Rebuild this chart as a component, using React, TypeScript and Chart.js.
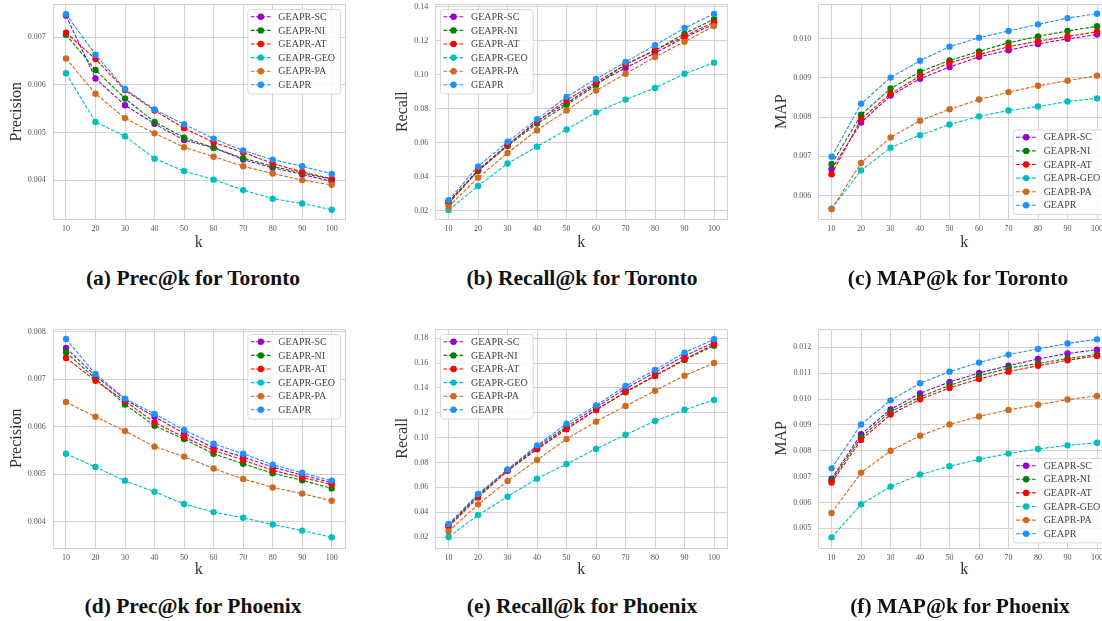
import React, { useEffect, useRef } from 'react';
import { Chart, registerables } from 'chart.js';

Chart.register(...registerables);

// ---------------- data ----------------
const ks = [10, 20, 30, 40, 50, 60, 70, 80, 90, 100];
const seriesNames = ['GEAPR-SC', 'GEAPR-NI', 'GEAPR-AT', 'GEAPR-GEO', 'GEAPR-PA', 'GEAPR'];
const seriesColors = ['#9400D3', '#008000', '#FF0000', '#00BFBF', '#D2691E', '#1E90FF'];

// rows follow seriesNames order
const precToronto = [
  [0.00745, 0.00613, 0.00557, 0.00518, 0.00484, 0.00468, 0.00443, 0.00426, 0.00412, 0.00397],
  [0.00705, 0.00631, 0.00571, 0.00522, 0.00489, 0.00468, 0.00446, 0.00429, 0.00415, 0.00401],
  [0.00709, 0.00654, 0.00589, 0.00546, 0.00509, 0.00479, 0.00458, 0.00435, 0.00417, 0.00403],
  [0.00624, 0.00522, 0.00492, 0.00445, 0.00419, 0.00401, 0.00379, 0.00361, 0.00351, 0.00338],
  [0.00655, 0.00581, 0.0053, 0.00498, 0.00469, 0.00449, 0.00429, 0.00414, 0.004, 0.0039],
  [0.00748, 0.00663, 0.00591, 0.00548, 0.00517, 0.00487, 0.00462, 0.00443, 0.00429, 0.00413],
];
const recallToronto = [
  [0.0254, 0.0438, 0.0586, 0.0729, 0.0834, 0.0948, 0.1041, 0.1129, 0.122, 0.1299],
  [0.0245, 0.0435, 0.0582, 0.0714, 0.0824, 0.0939, 0.1063, 0.1144, 0.1243, 0.1328],
  [0.025, 0.0442, 0.059, 0.0725, 0.0851, 0.0956, 0.1061, 0.1146, 0.1228, 0.1311],
  [0.0206, 0.0347, 0.0479, 0.0578, 0.0679, 0.078, 0.0855, 0.0923, 0.1007, 0.1072],
  [0.0225, 0.0396, 0.0541, 0.0675, 0.0791, 0.0908, 0.1007, 0.1105, 0.1195, 0.1288],
  [0.0264, 0.0462, 0.0607, 0.0739, 0.0871, 0.0976, 0.1076, 0.1175, 0.1276, 0.1359],
];
const mapToronto = [
  [0.00667, 0.00786, 0.00855, 0.00898, 0.00928, 0.00954, 0.00971, 0.00987, 0.01, 0.01011],
  [0.0068, 0.00806, 0.00873, 0.00916, 0.00945, 0.00968, 0.0099, 0.01006, 0.0102, 0.01032],
  [0.00654, 0.00795, 0.0086, 0.00905, 0.00939, 0.0096, 0.0098, 0.00994, 0.01006, 0.01018],
  [0.00566, 0.00664, 0.00722, 0.00754, 0.00781, 0.00802, 0.00817, 0.00827, 0.0084, 0.00848],
  [0.00565, 0.00683, 0.00748, 0.00791, 0.0082, 0.00845, 0.00864, 0.0088, 0.00893, 0.00906],
  [0.00699, 0.00834, 0.00901, 0.00944, 0.0098, 0.01003, 0.0102, 0.01037, 0.01053, 0.01064],
];
const precPhoenix = [
  [0.00766, 0.00707, 0.00658, 0.00621, 0.00586, 0.00556, 0.00536, 0.00515, 0.00498, 0.00482],
  [0.00757, 0.00701, 0.00647, 0.00602, 0.00574, 0.00543, 0.00522, 0.00502, 0.00487, 0.0047],
  [0.00745, 0.00697, 0.00654, 0.00609, 0.00578, 0.0055, 0.0053, 0.00508, 0.00493, 0.00478],
  [0.00543, 0.00515, 0.00486, 0.00463, 0.00437, 0.0042, 0.00408, 0.00394, 0.00381, 0.00367],
  [0.00652, 0.00621, 0.00591, 0.00558, 0.00537, 0.00512, 0.0049, 0.00472, 0.00459, 0.00444],
  [0.00785, 0.00711, 0.00659, 0.00627, 0.00593, 0.00564, 0.00543, 0.0052, 0.00503, 0.00486],
];
const recallPhoenix = [
  [0.0297, 0.0538, 0.074, 0.0928, 0.1089, 0.1244, 0.1395, 0.1526, 0.166, 0.1765],
  [0.0289, 0.053, 0.0734, 0.0914, 0.1075, 0.1223, 0.1365, 0.1497, 0.1626, 0.1741],
  [0.0283, 0.0519, 0.0734, 0.0906, 0.1067, 0.1223, 0.137, 0.1499, 0.1631, 0.1752],
  [0.02, 0.0377, 0.0525, 0.067, 0.0788, 0.0909, 0.1024, 0.1134, 0.1225, 0.1303],
  [0.0246, 0.0463, 0.0651, 0.082, 0.0989, 0.1129, 0.1255, 0.1378, 0.1499, 0.1601],
  [0.0305, 0.0546, 0.0745, 0.0938, 0.1113, 0.126, 0.1416, 0.1545, 0.1685, 0.1792],
];
const mapPhoenix = [
  [0.00692, 0.00864, 0.0096, 0.01022, 0.01066, 0.01101, 0.01129, 0.01155, 0.01176, 0.01191],
  [0.00686, 0.00852, 0.00951, 0.01008, 0.01053, 0.0109, 0.01119, 0.01138, 0.01157, 0.01173],
  [0.00677, 0.00842, 0.0094, 0.00999, 0.01043, 0.01078, 0.01106, 0.01129, 0.0115, 0.01167],
  [0.00465, 0.00593, 0.00661, 0.00708, 0.0074, 0.00767, 0.00789, 0.00807, 0.00821, 0.00831],
  [0.00559, 0.00715, 0.008, 0.00858, 0.00902, 0.00933, 0.00958, 0.00978, 0.00998, 0.01012],
  [0.00732, 0.00902, 0.00995, 0.01061, 0.01106, 0.01141, 0.01172, 0.01194, 0.01215, 0.01231],
];

const precTorontoTicks = [0.004, 0.005, 0.006, 0.007];
const recallTorontoTicks = [0.02, 0.04, 0.06, 0.08, 0.1, 0.12, 0.14];
const mapTorontoTicks = [0.006, 0.007, 0.008, 0.009, 0.01];
const precPhoenixTicks = [0.004, 0.005, 0.006, 0.007, 0.008];
const recallPhoenixTicks = [0.02, 0.04, 0.06, 0.08, 0.1, 0.12, 0.14, 0.16, 0.18];
const mapPhoenixTicks = [0.005, 0.006, 0.007, 0.008, 0.009, 0.01, 0.011, 0.012];

const captions = [
  '(a) Prec@k for Toronto',
  '(b) Recall@k for Toronto',
  '(c) MAP@k for Toronto',
  '(d) Prec@k for Phoenix',
  '(e) Recall@k for Phoenix',
  '(f) MAP@k for Phoenix',
];

// ---------------- styles / layout ----------------
const FONT = '"Liberation Serif", "Times New Roman", serif';
const GRID = '#d2d2d2';
const TICK_COLOR = '#555555';
const LABEL_COLOR = '#333333';
const LEGEND_COLOR = '#444444';

type Spec = {
  values: number[][];
  ticks: number[];
  decimals: number;
  yMin: number;
  yMax: number;
  yLabel: string;
  yTitlePad: number;
  xTitlePad: number;
  legendLoc: 'ur' | 'ul' | 'lr';
  canvas: { x: number; y: number; w: number; h: number };
  area: { l: number; t: number; r: number; b: number };
  caption: string;
  capX: number;
  capY: number;
};

const specs: Spec[] = [
  {
    values: precToronto, ticks: precTorontoTicks, decimals: 3, yMin: 0.003178, yMax: 0.007693,
    yLabel: 'Precision', yTitlePad: 6.7, xTitlePad: 2.4, legendLoc: 'ur',
    canvas: { x: 0, y: 0, w: 370, h: 255 }, area: { l: 52.7, t: 1.7, r: 345, b: 219.3 },
    caption: captions[0], capX: 193, capY: 278,
  },
  {
    values: recallToronto, ticks: recallTorontoTicks, decimals: 2, yMin: 0.0151, yMax: 0.1417,
    yLabel: 'Recall', yTitlePad: 22.9, xTitlePad: 2.4, legendLoc: 'ul',
    canvas: { x: 370, y: 0, w: 370, h: 255 }, area: { l: 65.3, t: 1.7, r: 357.3, b: 219.3 },
    caption: captions[1], capX: 582, capY: 278,
  },
  {
    values: mapToronto, ticks: mapTorontoTicks, decimals: 3, yMin: 0.00539, yMax: 0.01089,
    yLabel: 'MAP', yTitlePad: 37.1, xTitlePad: 2.4, legendLoc: 'lr',
    canvas: { x: 735, y: 0, w: 385, h: 255 }, area: { l: 83.3, t: 1.7, r: 375.3, b: 219.3 },
    caption: captions[2], capX: 958, capY: 278,
  },
  {
    values: precPhoenix, ticks: precPhoenixTicks, decimals: 3, yMin: 0.00345, yMax: 0.00806,
    yLabel: 'Precision', yTitlePad: 6.7, xTitlePad: 3.4, legendLoc: 'ur',
    canvas: { x: 0, y: 320, w: 370, h: 263 }, area: { l: 52.7, t: 9, r: 345, b: 227.7 },
    caption: captions[3], capX: 193, capY: 606,
  },
  {
    values: recallPhoenix, ticks: recallPhoenixTicks, decimals: 2, yMin: 0.0114, yMax: 0.1875,
    yLabel: 'Recall', yTitlePad: 22.9, xTitlePad: 3.4, legendLoc: 'ul',
    canvas: { x: 370, y: 320, w: 370, h: 263 }, area: { l: 65.3, t: 9, r: 357.3, b: 227.7 },
    caption: captions[4], capX: 582, capY: 606,
  },
  {
    values: mapPhoenix, ticks: mapPhoenixTicks, decimals: 3, yMin: 0.00425, yMax: 0.01271,
    yLabel: 'MAP', yTitlePad: 37.1, xTitlePad: 3.4, legendLoc: 'lr',
    canvas: { x: 735, y: 320, w: 385, h: 263 }, area: { l: 83.3, t: 9, r: 375.3, b: 227.7 },
    caption: captions[5], capX: 960, capY: 606,
  },
];

const framePlugin = {
  id: 'frame',
  beforeDatasetsDraw(chart: any) {
    const { ctx, chartArea: a } = chart;
    ctx.save();
    ctx.strokeStyle = GRID;
    ctx.lineWidth = 1;
    const l = Math.round(a.left) + 0.5;
    const t = Math.round(a.top) + 0.5;
    const r = Math.round(a.right) + 0.5;
    const b = Math.round(a.bottom) + 0.5;
    ctx.strokeRect(l, t, r - l, b - t);
    ctx.restore();
  },
};

const legendPlugin = {
  id: 'boxLegend',
  afterDraw(chart: any, _args: any, opts: any) {
    const { ctx, chartArea: a } = chart;
    const ds = chart.data.datasets;
    ctx.save();
    ctx.font = `10px ${FONT}`;
    const maxW = Math.max(...ds.map((d: any) => ctx.measureText(d.label).width));
    const w = 31 + maxW + 5;
    const rowH = 13.6;
    const h = 84.5;
    let x = a.right - 5 - w;
    let y = a.top + 5;
    if (opts.loc === 'ul') x = a.left + 4.7;
    if (opts.loc === 'lr') y = a.bottom - 5.3 - h;
    ctx.beginPath();
    ctx.roundRect(x + 0.5, y + 0.5, w, h, 3);
    ctx.fillStyle = 'rgba(255,255,255,0.85)';
    ctx.fill();
    ctx.strokeStyle = '#d8d8d8';
    ctx.lineWidth = 1;
    ctx.stroke();
    ds.forEach((d: any, i: number) => {
      const cy = y + 7.8 + i * rowH;
      ctx.strokeStyle = d.borderColor;
      ctx.lineWidth = 1.1;
      ctx.setLineDash([3.7, 1.6]);
      ctx.beginPath();
      ctx.moveTo(x + 3.5, cy);
      ctx.lineTo(x + 23.5, cy);
      ctx.stroke();
      ctx.setLineDash([]);
      ctx.beginPath();
      ctx.arc(x + 13.5, cy, 3.2, 0, Math.PI * 2);
      ctx.fillStyle = d.borderColor;
      ctx.fill();
      ctx.fillStyle = LEGEND_COLOR;
      ctx.textBaseline = 'middle';
      ctx.textAlign = 'left';
      ctx.fillText(d.label, x + 31, cy + 0.5);
    });
    ctx.restore();
  },
};

function Panel({ spec }: { spec: Spec }) {
  const ref = useRef<HTMLCanvasElement>(null);
  const c = spec.canvas;
  const a = spec.area;
  useEffect(() => {
    const chart = new Chart(ref.current as HTMLCanvasElement, {
      type: 'line',
      data: {
        datasets: seriesNames.map((name, i) => ({
          label: name,
          data: ks.map((k, j) => ({ x: k, y: spec.values[i][j] })),
          borderColor: seriesColors[i],
          backgroundColor: seriesColors[i],
          pointBackgroundColor: seriesColors[i],
          pointBorderWidth: 0,
          pointRadius: 3.2,
          borderWidth: 1.1,
          borderDash: [3.7, 1.6],
          fill: false,
          tension: 0,
          order: seriesNames.length - i,
        })),
      },
      options: {
        responsive: false,
        maintainAspectRatio: false,
        animation: false,
        devicePixelRatio: 1,
        font: { family: FONT },
        layout: { padding: { left: 0, top: a.t, right: c.w - a.r, bottom: 0 } },
        plugins: {
          legend: { display: false },
          tooltip: { enabled: false },
          boxLegend: { loc: spec.legendLoc },
        } as any,
        scales: {
          x: {
            type: 'linear',
            min: 5.5,
            max: 104.5,
            bounds: 'data',
            afterBuildTicks: (s: any) => {
              s.ticks = ks.map((v) => ({ value: v }));
            },
            afterFit: (s: any) => {
              s.height = c.h - a.b;
              s.paddingLeft = 0;
              s.paddingRight = 0;
              s.paddingTop = 0;
              s.paddingBottom = 0;
            },
            ticks: {
              autoSkip: false,
              maxRotation: 0,
              padding: 5,
              color: TICK_COLOR,
              font: { family: FONT, size: 8 },
              callback: (v: any) => String(v),
            },
            grid: { color: GRID, lineWidth: 1, drawTicks: false },
            border: { display: false },
            title: {
              display: true,
              text: 'k',
              color: LABEL_COLOR,
              font: { family: FONT, size: 16 },
              padding: { top: 0, bottom: spec.xTitlePad },
            },
          },
          y: {
            type: 'linear',
            min: spec.yMin,
            max: spec.yMax,
            bounds: 'data',
            afterBuildTicks: (s: any) => {
              s.ticks = spec.ticks.map((v) => ({ value: v }));
            },
            afterFit: (s: any) => {
              s.width = a.l;
              s.paddingLeft = 0;
              s.paddingRight = 0;
              s.paddingTop = 0;
              s.paddingBottom = 0;
            },
            ticks: {
              autoSkip: false,
              padding: 7,
              color: TICK_COLOR,
              font: { family: FONT, size: 8 },
              callback: (v: any) => Number(v).toFixed(spec.decimals),
            },
            grid: { color: GRID, lineWidth: 1, drawTicks: false },
            border: { display: false },
            title: {
              display: true,
              text: spec.yLabel,
              color: LABEL_COLOR,
              font: { family: FONT, size: 16 },
              padding: { top: spec.yTitlePad, bottom: 0 },
            },
          },
        },
      } as any,
      plugins: [framePlugin, legendPlugin],
    });
    return () => chart.destroy();
  }, []);
  return (
    <>
      <canvas
        ref={ref}
        width={c.w}
        height={c.h}
        style={{ position: 'absolute', left: c.x, top: c.y, width: c.w, height: c.h }}
      />
      <div
        style={{
          position: 'absolute',
          left: spec.capX - 200,
          top: spec.capY - 13,
          width: 400,
          height: 26,
          lineHeight: '26px',
          textAlign: 'center',
          fontFamily: FONT,
          fontWeight: 'bold',
          fontSize: 21.5,
          color: '#111',
          whiteSpace: 'nowrap',
        }}
      >
        {spec.caption}
      </div>
    </>
  );
}

export default function App() {
  return (
    <div
      style={{
        position: 'fixed',
        left: 0,
        top: 0,
        width: 1102,
        height: 621,
        overflow: 'hidden',
        background: '#ffffff',
      }}
    >
      {specs.map((s, i) => (
        <Panel key={i} spec={s} />
      ))}
    </div>
  );
}
